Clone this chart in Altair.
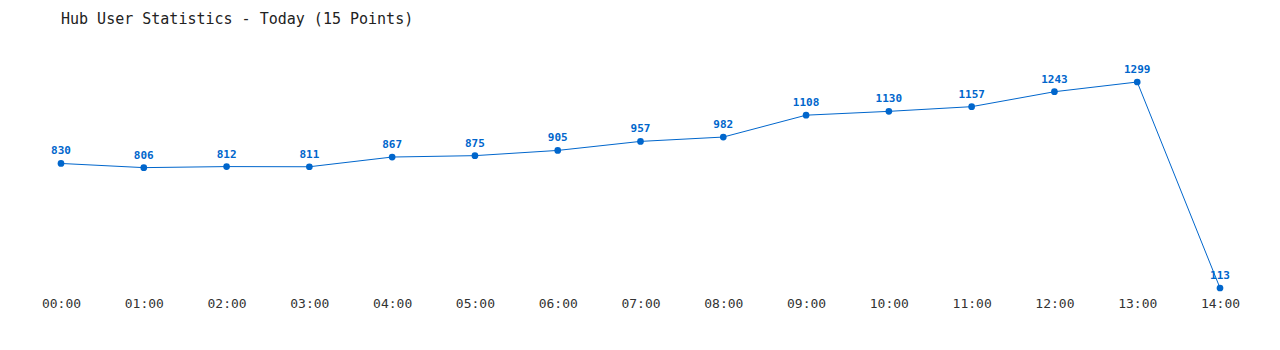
import altair as alt
import pandas as pd

hours = ["00:00", "01:00", "02:00", "03:00", "04:00", "05:00", "06:00", "07:00",
         "08:00", "09:00", "10:00", "11:00", "12:00", "13:00", "14:00"]
users = [830, 806, 812, 811, 867, 875, 905, 957, 982, 1108, 1130, 1157, 1243, 1299, 113]

df = pd.DataFrame({"hour": hours, "users": users})

BLUE = "#0066cc"
FONT = "DejaVu Sans Mono"

x = alt.X("hour:N", sort=hours, title=None,
          scale=alt.Scale(type="point", padding=0),
          axis=alt.Axis(labelAngle=0, domain=False, ticks=False, grid=False,
                        labelFont=FONT, labelFontSize=13, labelColor="#333333",
                        labelPadding=9))
y = alt.Y("users:Q", title=None,
          scale=alt.Scale(domain=[113, 1299], zero=False, nice=False),
          axis=None)

base = alt.Chart(df).encode(x=x, y=y)

line = base.mark_line(color=BLUE, strokeWidth=1)
pts = base.mark_point(filled=True, color=BLUE, size=45, opacity=1)
labels = base.mark_text(color=BLUE, font=FONT, fontSize=11, fontWeight="bold",
                        baseline="bottom", dy=-7).encode(text="users:Q")

chart = (line + pts + labels).properties(
    width=1159, height=206,
    background="white",
    title=alt.TitleParams("Hub User Statistics - Today (15 Points)", anchor="start",
                          font=FONT, fontSize=15, fontWeight="normal", color="#222222",
                          offset=37, frame="group"),
    autosize=alt.AutoSizeParams(type="none"),
    padding={"left": 61, "top": 82, "right": 60, "bottom": 62},
).configure_view(strokeWidth=0, stroke="transparent")

chart.save("out.html", embed_options={"renderer": "svg", "actions": False})
